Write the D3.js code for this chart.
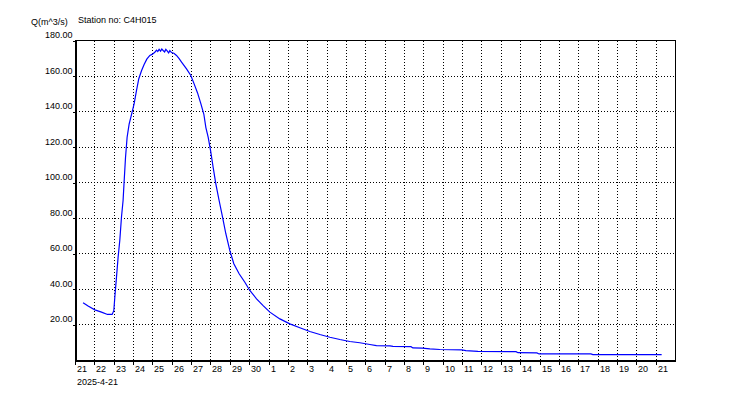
<!DOCTYPE html>
<html>
<head>
<meta charset="utf-8">
<script src="https://cdn.jsdelivr.net/npm/d3@7"></script>
<style>
body { margin: 0; background: #fff; }
svg { font-family: "Liberation Sans", Arial, sans-serif; font-size: 9px; }
</style>
</head>
<body>
<div id="chart"></div>
<script>
// station + axis labels
var stationNo = "C4H015";
var yLabel = "Q(m^3/s)";
var yTicks = [20, 40, 60, 80, 100, 120, 140, 160, 180];
var startDate = "2025-04-21 00:00";
var endDate = "2025-05-22 00:00";

// discharge record
var times = [
    "2025-04-21 09:24", "2025-04-21 15:36", "2025-04-22 00:00", "2025-04-22 08:15", "2025-04-22 15:40",
    "2025-04-22 21:25", "2025-04-22 23:30", "2025-04-23 00:45", "2025-04-23 02:50", "2025-04-23 04:50",
    "2025-04-23 06:55", "2025-04-23 09:00", "2025-04-23 11:00", "2025-04-23 12:20", "2025-04-23 14:00",
    "2025-04-23 16:00", "2025-04-23 18:30", "2025-04-23 21:30", "2025-04-24 00:40", "2025-04-24 03:40",
    "2025-04-24 06:30", "2025-04-24 09:50", "2025-04-24 13:05", "2025-04-24 16:25", "2025-04-24 20:10",
    "2025-04-24 23:00", "2025-04-25 02:20", "2025-04-25 04:30", "2025-04-25 06:00", "2025-04-25 07:40",
    "2025-04-25 09:30", "2025-04-25 11:00", "2025-04-25 12:40", "2025-04-25 14:30", "2025-04-25 16:00",
    "2025-04-25 17:40", "2025-04-25 19:30", "2025-04-25 21:00", "2025-04-25 23:05", "2025-04-26 02:00",
    "2025-04-26 05:15", "2025-04-26 08:30", "2025-04-26 11:30", "2025-04-26 17:40", "2025-04-26 23:00",
    "2025-04-27 03:05", "2025-04-27 07:20", "2025-04-27 11:25", "2025-04-27 15:10", "2025-04-27 17:40",
    "2025-04-27 20:30", "2025-04-27 23:30", "2025-04-28 02:40", "2025-04-28 06:00", "2025-04-28 10:05",
    "2025-04-28 14:20", "2025-04-28 18:25", "2025-04-28 23:20", "2025-04-29 04:20", "2025-04-29 10:55",
    "2025-04-29 18:00", "2025-04-30 00:10", "2025-04-30 08:30", "2025-04-30 16:40", "2025-05-01 01:00",
    "2025-05-01 13:25", "2025-05-02 01:50", "2025-05-02 14:10", "2025-05-03 02:35", "2025-05-03 15:00",
    "2025-05-04 03:25", "2025-05-04 15:50", "2025-05-05 04:10", "2025-05-05 16:35", "2025-05-06 05:00",
    "2025-05-06 13:10", "2025-05-07 06:00", "2025-05-07 09:40", "2025-05-08 08:00", "2025-05-08 10:20",
    "2025-05-08 22:00", "2025-05-09 07:25", "2025-05-09 19:50", "2025-05-10 23:00", "2025-05-11 04:00",
    "2025-05-11 19:00", "2025-05-13 18:15", "2025-05-13 20:40", "2025-05-14 20:10", "2025-05-14 22:50",
    "2025-05-17 15:10", "2025-05-17 17:30", "2025-05-21 06:50"
];
var flows = [
    32.5, 30.6, 28.5, 27.2, 25.9,
    25.9, 28.0, 35.6, 46.9, 58.1,
    67.5, 80.6, 90.0, 101.0, 114.0,
    125.6, 133.0, 138.5, 144.4, 151.9,
    158.5, 163.0, 166.5, 169.5, 171.6,
    172.2, 173.4, 174.6, 173.8, 175.0,
    174.0, 175.2, 174.4, 173.6, 175.0,
    174.2, 173.0, 174.3, 173.2, 172.8,
    171.6, 169.8, 167.8, 164.0, 160.3,
    155.6, 150.5, 144.5, 138.5, 131.0,
    125.6, 118.0, 108.7, 99.4, 90.0,
    80.6, 71.3, 61.9, 54.4, 48.8,
    44.0, 39.4, 34.7, 30.9, 27.2,
    23.4, 20.6, 18.4, 16.3, 14.6,
    13.1, 11.8, 10.7, 10.0, 9.0,
    8.4, 8.2, 7.9, 7.8, 7.1,
    7.0, 6.5, 6.2, 6.0, 5.6,
    5.1, 5.0, 4.4, 4.3, 3.7,
    3.7, 3.3, 3.3
];

var parseTime = d3.timeParse("%Y-%m-%d %H:%M");
var data = times.map(function (t, i) { return { t: parseTime(t), v: flows[i] }; });

var margin = { top: 40, right: 75, bottom: 40, left: 75 },
    width = 750 - margin.left - margin.right,
    height = 400 - margin.top - margin.bottom;

var x = d3.scaleTime()
    .domain([parseTime(startDate), parseTime(endDate)])
    .range([0, width]);
var y = d3.scaleLinear()
    .domain([0, 180])
    .range([height, 0]);

var svg = d3.select("#chart").append("svg")
    .attr("width", 750)
    .attr("height", 400);

svg.append("text")
    .attr("x", 31).attr("y", 25)
    .text(yLabel);
svg.append("text")
    .attr("x", 78).attr("y", 23)
    .text("Station no: " + stationNo);

var g = svg.append("g")
    .attr("transform", "translate(" + (margin.left + 0.5) + "," + (margin.top + 0.5) + ")");

// one tick per day, 21 Apr .. 21 May
var days = d3.timeDay.range(x.domain()[0], x.domain()[1]);

// dotted grid
g.selectAll("line.gridX")
    .data(days.slice(1)).enter()
    .append("line")
    .attr("class", "gridX")
    .attr("x1", function (d) { return Math.round(x(d)); })
    .attr("x2", function (d) { return Math.round(x(d)); })
    .attr("y1", 0)
    .attr("y2", height)
    .style("stroke", "#000")
    .style("stroke-dasharray", "1,2")
    .style("shape-rendering", "crispEdges");
g.selectAll("line.gridY")
    .data(yTicks.filter(function (d) { return d < 180; })).enter()
    .append("line")
    .attr("class", "gridY")
    .attr("x1", 0)
    .attr("x2", width)
    .attr("y1", function (d) { return Math.round(y(d)); })
    .attr("y2", function (d) { return Math.round(y(d)); })
    .style("stroke", "#000")
    .style("stroke-dasharray", "1,2")
    .style("shape-rendering", "crispEdges");

// frame
g.append("rect")
    .attr("x", 0).attr("y", 0)
    .attr("width", width).attr("height", height)
    .style("fill", "none")
    .style("stroke", "#000")
    .style("shape-rendering", "crispEdges");

var xAxis = d3.axisBottom(x)
    .tickValues(days)
    .tickFormat(d3.timeFormat("%-d"))
    .tickSize(4)
    .tickSizeOuter(0);
var yAxis = d3.axisLeft(y)
    .tickValues(yTicks)
    .tickFormat(d3.format(".2f"))
    .tickSize(3)
    .tickSizeOuter(0);

var gx = g.append("g")
    .attr("class", "x axis")
    .attr("transform", "translate(0," + height + ")")
    .call(xAxis);
gx.selectAll(".tick").attr("transform", function (d) { return "translate(" + Math.round(x(d)) + ",0)"; });
gx.selectAll("text")
    .attr("text-anchor", "start")
    .attr("x", 1.5)
    .attr("y", 11.5)
    .attr("dy", 0);
gx.append("text")
    .attr("x", 1.5)
    .attr("y", 24)
    .style("text-anchor", "start")
    .style("fill", "#000")
    .text(d3.timeFormat("%Y-%-m-%-d")(x.domain()[0]));

var gy = g.append("g")
    .attr("class", "y axis")
    .call(yAxis);
gy.selectAll("text")
    .attr("x", -3)
    .attr("dy", -3);

svg.selectAll(".axis path").style("stroke", "#000").style("stroke-width", "2px").style("shape-rendering", "crispEdges");
svg.selectAll(".axis line").style("stroke", "#000").style("shape-rendering", "crispEdges");
svg.selectAll(".axis text").style("font", "9px 'Liberation Sans', Arial, sans-serif").style("fill", "#000");

var line = d3.line()
    .x(function (d) { return x(d.t); })
    .y(function (d) { return y(d.v); });

g.append("path")
    .datum(data)
    .attr("class", "line")
    .attr("d", line)
    .style("fill", "none")
    .style("stroke", "#0000ff")
    .style("stroke-width", "1.2px");
</script>
</body>
</html>
